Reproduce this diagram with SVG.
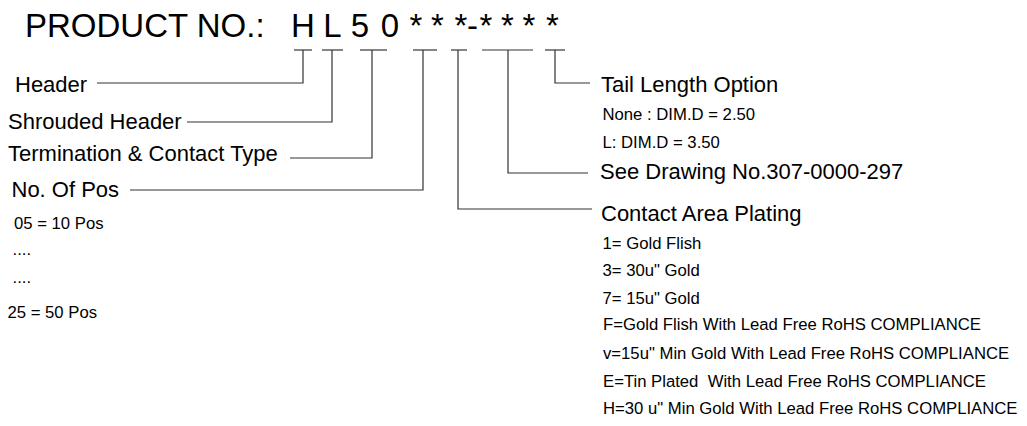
<svg xmlns="http://www.w3.org/2000/svg" width="1027" height="426" viewBox="0 0 1027 426">
<style>
text{font-family:"Liberation Sans",Arial,sans-serif;fill:#000}
.t{font-size:33px}
.l{font-size:22px}
.s{font-size:16.7px}
.c line,.c polyline{stroke:#333;stroke-width:1.2;fill:none}
</style>
<rect width="1027" height="426" fill="#fff"/>
<g id="title">
<text class="t" x="25" y="37">PRODUCT NO.:</text>
<text class="t" text-anchor="middle" y="37"><tspan x="303">H</tspan><tspan x="332.5">L</tspan><tspan x="360">5</tspan><tspan x="390">0</tspan><tspan x="416" y="37">*</tspan><tspan x="437.5">*</tspan><tspan x="461">*</tspan><tspan x="472.5">-</tspan><tspan x="486">*</tspan><tspan x="507.5">*</tspan><tspan x="529">*</tspan><tspan x="552.5">*</tspan></text>
</g>
<g id="header"><text class="l" x="15" y="92">Header</text></g>
<g id="shrouded"><text class="l" x="8" y="128.5">Shrouded Header</text></g>
<g id="termination"><text class="l" x="8" y="161">Termination &amp; Contact Type</text></g>
<g id="positions">
<text class="l" x="11.5" y="196.5">No. Of Pos</text>
<text class="s" x="14" y="228.5">05 = 10 Pos</text>
<text class="s" x="12.5" y="254.5">....</text>
<text class="s" x="12.5" y="282.5">....</text>
<text class="s" x="7.5" y="317.5">25 = 50 Pos</text>
</g>
<g id="tail">
<text class="l" x="601" y="92.3">Tail Length Option</text>
<text class="s" x="602.5" y="119.5">None : DIM.D = 2.50</text>
<text class="s" x="602.5" y="147.5">L: DIM.D = 3.50</text>
</g>
<g id="drawing"><text class="l" x="600" y="179">See Drawing No.307-0000-297</text></g>
<g id="plating">
<text class="l" x="601" y="221">Contact Area Plating</text>
<text class="s" x="602.5" y="249">1= Gold Flish</text>
<text class="s" x="602.5" y="276">3= 30u" Gold</text>
<text class="s" x="602.5" y="304">7= 15u" Gold</text>
<text class="s" x="603" y="329.5">F=Gold Flish With Lead Free RoHS COMPLIANCE</text>
<text class="s" x="603" y="358.5">v=15u" Min Gold With Lead Free RoHS COMPLIANCE</text>
<text class="s" x="603" y="387" xml:space="preserve">E=Tin Plated  With Lead Free RoHS COMPLIANCE</text>
<text class="s" x="603" y="414">H=30 u" Min Gold With Lead Free RoHS COMPLIANCE</text>
</g>
<g id="connectors" class="c">
<line x1="294" y1="50" x2="312" y2="50"/>
<line x1="322" y1="50" x2="343" y2="50"/>
<line x1="360" y1="50" x2="387" y2="50"/>
<line x1="413" y1="50" x2="437" y2="50"/>
<line x1="451" y1="50" x2="467" y2="50"/>
<line x1="482" y1="50" x2="533" y2="50"/>
<line x1="545" y1="50" x2="565" y2="50"/>
<polyline points="303,50 303,83 97,83"/>
<polyline points="332,50 332,122 187,122"/>
<polyline points="372,50 372,158 290,158"/>
<polyline points="423,50 423,190 130,190"/>
<polyline points="458,50 458,209 592,209"/>
<polyline points="508,50 508,173 588,173"/>
<polyline points="555,50 555,83 590,83"/>
</g>
</svg>
